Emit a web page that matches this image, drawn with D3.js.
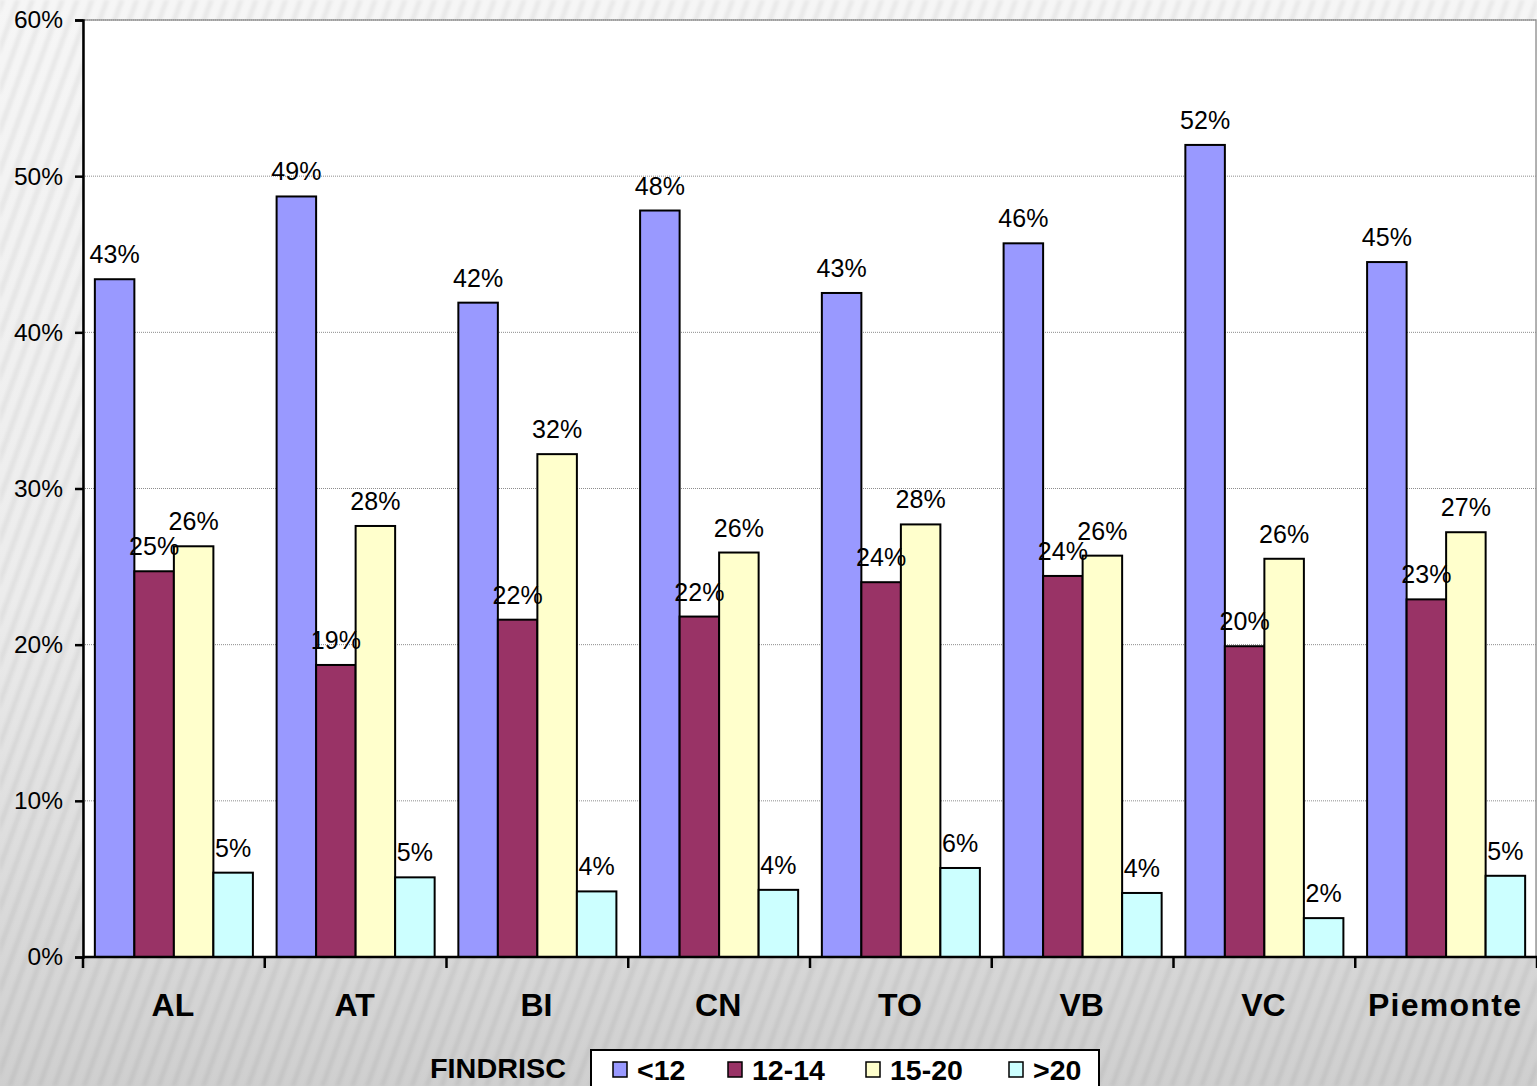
<!DOCTYPE html>
<html>
<head>
<meta charset="utf-8">
<script src="https://cdn.jsdelivr.net/npm/d3@7"></script>
<style>
  html, body { margin: 0; padding: 0; background: #e6e6e6; }
  svg { display: block; font-family: "Liberation Sans", Arial, sans-serif; }
</style>
</head>
<body>
<svg id="chart" width="1537" height="1086"></svg>
<script>
// FINDRISC score distribution by province
const categories = ["AL", "AT", "BI", "CN", "TO", "VB", "VC", "Piemonte"];
const seriesNames = ["<12", "12-14", "15-20", ">20"];
const seriesColors = ["#9999FF", "#993366", "#FFFFCC", "#CCFFFF"];
const valsLt12   = [0.434, 0.487, 0.419, 0.478, 0.4252, 0.457, 0.520, 0.445];
const vals12to14 = [0.247, 0.187, 0.216, 0.218, 0.240, 0.244, 0.199, 0.229];
const vals15to20 = [0.263, 0.276, 0.322, 0.259, 0.277, 0.257, 0.255, 0.272];
const valsGt20   = [0.054, 0.051, 0.042, 0.043, 0.057, 0.041, 0.0249, 0.052];
const yTicks = [0, 0.1, 0.2, 0.3, 0.4, 0.5, 0.6];
const legendTitle = "FINDRISC";

const seriesValues = [valsLt12, vals12to14, vals15to20, valsGt20];

const svg = d3.select("#chart");
const W = 1537, H = 1086;
const plot = { left: 83, right: 1536, top: 20, bottom: 957 };

// background: soft grey gradient with diagonal stripes
const defs = svg.append("defs");
const grad = defs.append("linearGradient").attr("id", "bg").attr("x1", 0).attr("y1", 0).attr("x2", 0).attr("y2", 1);
grad.append("stop").attr("offset", "0%").attr("stop-color", "#f6f6f6");
grad.append("stop").attr("offset", "55%").attr("stop-color", "#ececec");
grad.append("stop").attr("offset", "100%").attr("stop-color", "#cfcfcf");
const pat = defs.append("pattern").attr("id", "stripes").attr("patternUnits", "userSpaceOnUse")
  .attr("width", 14).attr("height", 14).attr("patternTransform", "rotate(20)");
pat.append("rect").attr("x", 0).attr("y", 0).attr("width", 5).attr("height", 14).attr("fill", "#000").attr("opacity", 0.05);
const blur = defs.append("filter").attr("id", "soft");
blur.append("feGaussianBlur").attr("stdDeviation", 1.5);

svg.append("rect").attr("width", W).attr("height", H).attr("fill", "url(#bg)");
svg.append("rect").attr("width", W).attr("height", H).attr("fill", "url(#stripes)").attr("filter", "url(#soft)");

// plot area
svg.append("rect")
  .attr("x", plot.left).attr("y", plot.top)
  .attr("width", plot.right - plot.left).attr("height", plot.bottom - plot.top)
  .attr("fill", "#ffffff").attr("stroke", "#9a9a9a").attr("stroke-width", 1.5);

const y = d3.scaleLinear().domain([0, 0.6]).range([plot.bottom, plot.top]);
const x0 = d3.scaleBand().domain(categories).range([plot.left, 1537]).padding(0);
const x1 = d3.scaleBand().domain(seriesNames).range([0, x0.bandwidth()]).paddingInner(0).paddingOuter(0.3);

// gridlines
svg.append("g").selectAll("line").data(yTicks.slice(1)).join("line")
  .attr("x1", plot.left).attr("x2", plot.right)
  .attr("y1", d => y(d)).attr("y2", d => y(d))
  .attr("stroke", "#8c8c8c").attr("stroke-width", 1).attr("stroke-dasharray", "1,1");

// bars
const groups = svg.append("g").selectAll("g").data(categories).join("g")
  .attr("transform", d => `translate(${x0(d)},0)`);
groups.selectAll("rect").data((c, ci) => seriesNames.map((s, si) => ({ s, si, v: seriesValues[si][ci] })))
  .join("rect")
  .attr("x", d => x1(d.s)).attr("width", x1.bandwidth())
  .attr("y", d => y(d.v)).attr("height", d => plot.bottom - y(d.v))
  .attr("fill", d => seriesColors[d.si]).attr("stroke", "#000").attr("stroke-width", 2);

// value labels
const fmt = d3.format(".0%");
const labels = svg.append("g");
categories.forEach((c, ci) => {
  seriesNames.forEach((s, si) => {
    const v = seriesValues[si][ci];
    labels.append("text")
      .attr("x", x0(c) + x1(s) + x1.bandwidth() / 2)
      .attr("y", y(v) - 16)
      .attr("text-anchor", "middle")
      .attr("font-size", 25).attr("fill", "#000")
      .text(fmt(v));
  });
});

// y axis
const yAxis = d3.axisLeft(y).tickValues(yTicks).tickFormat(d3.format(".0%")).tickSize(8).tickPadding(12);
const gy = svg.append("g").attr("transform", `translate(${plot.left},0)`).call(yAxis);
gy.select(".domain").attr("stroke", "#000").attr("stroke-width", 2.5);
gy.selectAll(".tick line").attr("stroke", "#000").attr("stroke-width", 2.5);
gy.selectAll(".tick text").attr("font-size", 24.5).attr("fill", "#000")
  .attr("font-family", "'Liberation Sans', Arial, sans-serif");

// x axis
svg.append("line").attr("x1", plot.left).attr("x2", 1537).attr("y1", plot.bottom).attr("y2", plot.bottom)
  .attr("stroke", "#000").attr("stroke-width", 2.5);
const boundaries = categories.map(c => x0(c)).concat([x0(categories[categories.length - 1]) + x0.bandwidth()]);
svg.append("g").selectAll("line").data(boundaries).join("line")
  .attr("x1", d => d).attr("x2", d => d).attr("y1", plot.bottom).attr("y2", plot.bottom + 11)
  .attr("stroke", "#000").attr("stroke-width", 2.5);
svg.append("g").selectAll("text").data(categories).join("text")
  .attr("x", d => x0(d) + x0.bandwidth() / 2 - 1)
  .attr("y", 1016)
  .attr("text-anchor", "middle")
  .attr("font-size", 32).attr("font-weight", "bold").attr("fill", "#000")
  .attr("letter-spacing", d => d.length > 2 ? 1.3 : 0)
  .text(d => d);

// legend
svg.append("text").attr("x", 566).attr("y", 1078).attr("text-anchor", "end")
  .attr("font-size", 28).attr("font-weight", "bold").attr("fill", "#000")
  .attr("textLength", 136).attr("lengthAdjust", "spacingAndGlyphs")
  .text(legendTitle);
svg.append("rect").attr("x", 591).attr("y", 1050).attr("width", 508).attr("height", 50)
  .attr("fill", "#fff").attr("stroke", "#000").attr("stroke-width", 2);
const legendX = [613, 728, 866, 1009];
const lg = svg.append("g").selectAll("g").data(seriesNames).join("g")
  .attr("transform", (d, i) => `translate(${legendX[i]},1062)`);
lg.append("rect").attr("x", 0).attr("y", 0).attr("width", 14).attr("height", 15)
  .attr("fill", (d, i) => seriesColors[i]).attr("stroke", "#000").attr("stroke-width", 1.5);
lg.append("text").attr("x", 24).attr("y", 18)
  .attr("font-size", 28.5).attr("font-weight", "bold").attr("fill", "#000")
  .text(d => d);
</script>
</body>
</html>
